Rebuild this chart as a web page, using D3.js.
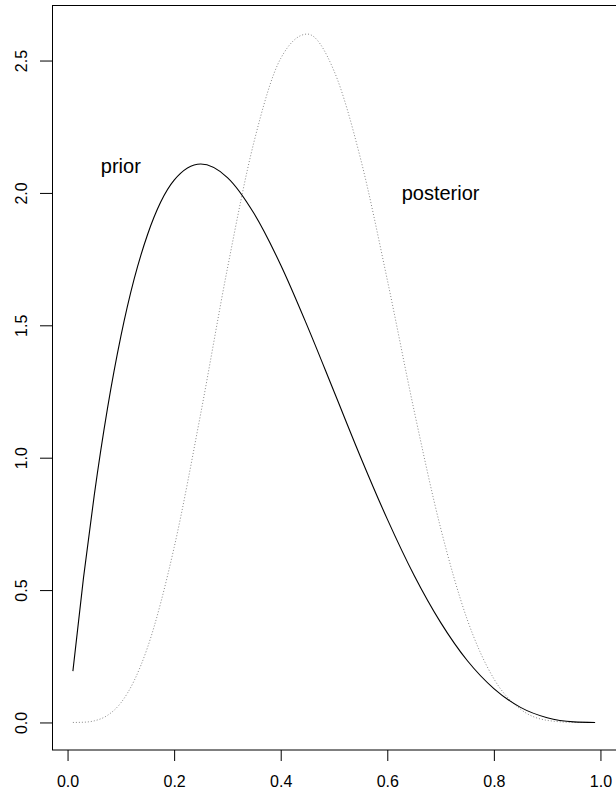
<!DOCTYPE html>
<html>
<head>
<meta charset="utf-8">
<script src="https://cdn.jsdelivr.net/npm/d3@7"></script>
<style>
  body { margin: 0; background: #fff; }
  svg { display: block; }
  text { font-family: "Liberation Sans", Arial, Helvetica, sans-serif; fill: #000; }
</style>
</head>
<body>
<script>
// values
const xs        = [0.01, 0.03, 0.05, 0.075, 0.1, 0.125, 0.15, 0.2, 0.25, 0.3, 0.35, 0.4, 0.45, 0.5, 0.55, 0.6, 0.65, 0.7, 0.75, 0.8, 0.85, 0.9, 0.95, 0.99];
const prior     = [0.194, 0.548, 0.857, 1.187, 1.458, 1.675, 1.842, 2.048, 2.109, 2.058, 1.922, 1.728, 1.497, 1.25, 1.002, 0.768, 0.557, 0.378, 0.234, 0.128, 0.057, 0.018, 0.0024, 0.0];
const posterior = [0.0, 0.0009, 0.0061, 0.027, 0.074, 0.158, 0.283, 0.661, 1.168, 1.715, 2.194, 2.508, 2.600, 2.461, 2.128, 1.672, 1.181, 0.735, 0.389, 0.165, 0.050, 0.008, 0.0003, 0.0];

const xTicks = [0, 0.2, 0.4, 0.6, 0.8, 1.0];
const yTicks = [0, 0.5, 1.0, 1.5, 2.0, 2.5];

const labels = [
  { text: "prior", x: 0.1, y: 2.1 },
  { text: "posterior", x: 0.7, y: 2.0 }
];

const W = 616, H = 793;

const svg = d3.select("body")
              .append("svg")
              .attr("width", W)
              .attr("height", H)

const x = d3.scaleLinear()
            .domain([-0.0292, 1.0292])
            .range([52, 616])

const y = d3.scaleLinear()
            .domain([-0.104, 2.706])
            .range([750, 6])

// box
svg.append("rect")
   .attr("x", 52.5)
   .attr("y", 5.5)
   .attr("width", 570)
   .attr("height", 744.5)
   .attr("fill", "none")
   .attr("stroke", "#000")
   .attr("stroke-width", 1)

// x axis
const xAxis = svg.append("g")
                 .attr("transform", "translate(0,750)")
                 .call(d3.axisBottom(x)
                         .tickValues(xTicks)
                         .tickSize(11)
                         .tickPadding(15)
                         .tickFormat(d3.format(".1f")))
xAxis.select(".domain").remove()
xAxis.selectAll("text")
     .attr("font-size", 16)
     .attr("font-family", null)

// y axis, labels parallel to the axis
const yAxis = svg.append("g")
                 .attr("transform", "translate(52,0)")
                 .call(d3.axisLeft(y)
                         .tickValues(yTicks)
                         .tickSize(12)
                         .tickFormat(d3.format(".1f")))
yAxis.select(".domain").remove()
yAxis.selectAll("text")
     .attr("font-size", 16)
     .attr("font-family", null)
     .attr("text-anchor", "middle")
     .attr("x", null)
     .attr("dy", null)
     .attr("transform", "translate(-31,0) rotate(-90)")
     .attr("dominant-baseline", "central")

const line = d3.line()
               .x((d, i) => x(xs[i]))
               .y(d => y(d))
               .curve(d3.curveMonotoneX)

svg.append("path")
   .datum(posterior)
   .attr("d", line)
   .attr("fill", "none")
   .attr("stroke", "#888")
   .attr("stroke-width", 1)
   .attr("stroke-dasharray", "1,2")

svg.append("path")
   .datum(prior)
   .attr("d", line)
   .attr("fill", "none")
   .attr("stroke", "#000")
   .attr("stroke-width", 1.1)

svg.selectAll(".lab")
   .data(labels)
   .enter()
   .append("text")
   .attr("class", "lab")
   .attr("x", d => x(d.x))
   .attr("y", d => y(d.y))
   .attr("text-anchor", "middle")
   .attr("dominant-baseline", "central")
   .attr("font-size", 20)
   .text(d => d.text)
</script>
</body>
</html>
